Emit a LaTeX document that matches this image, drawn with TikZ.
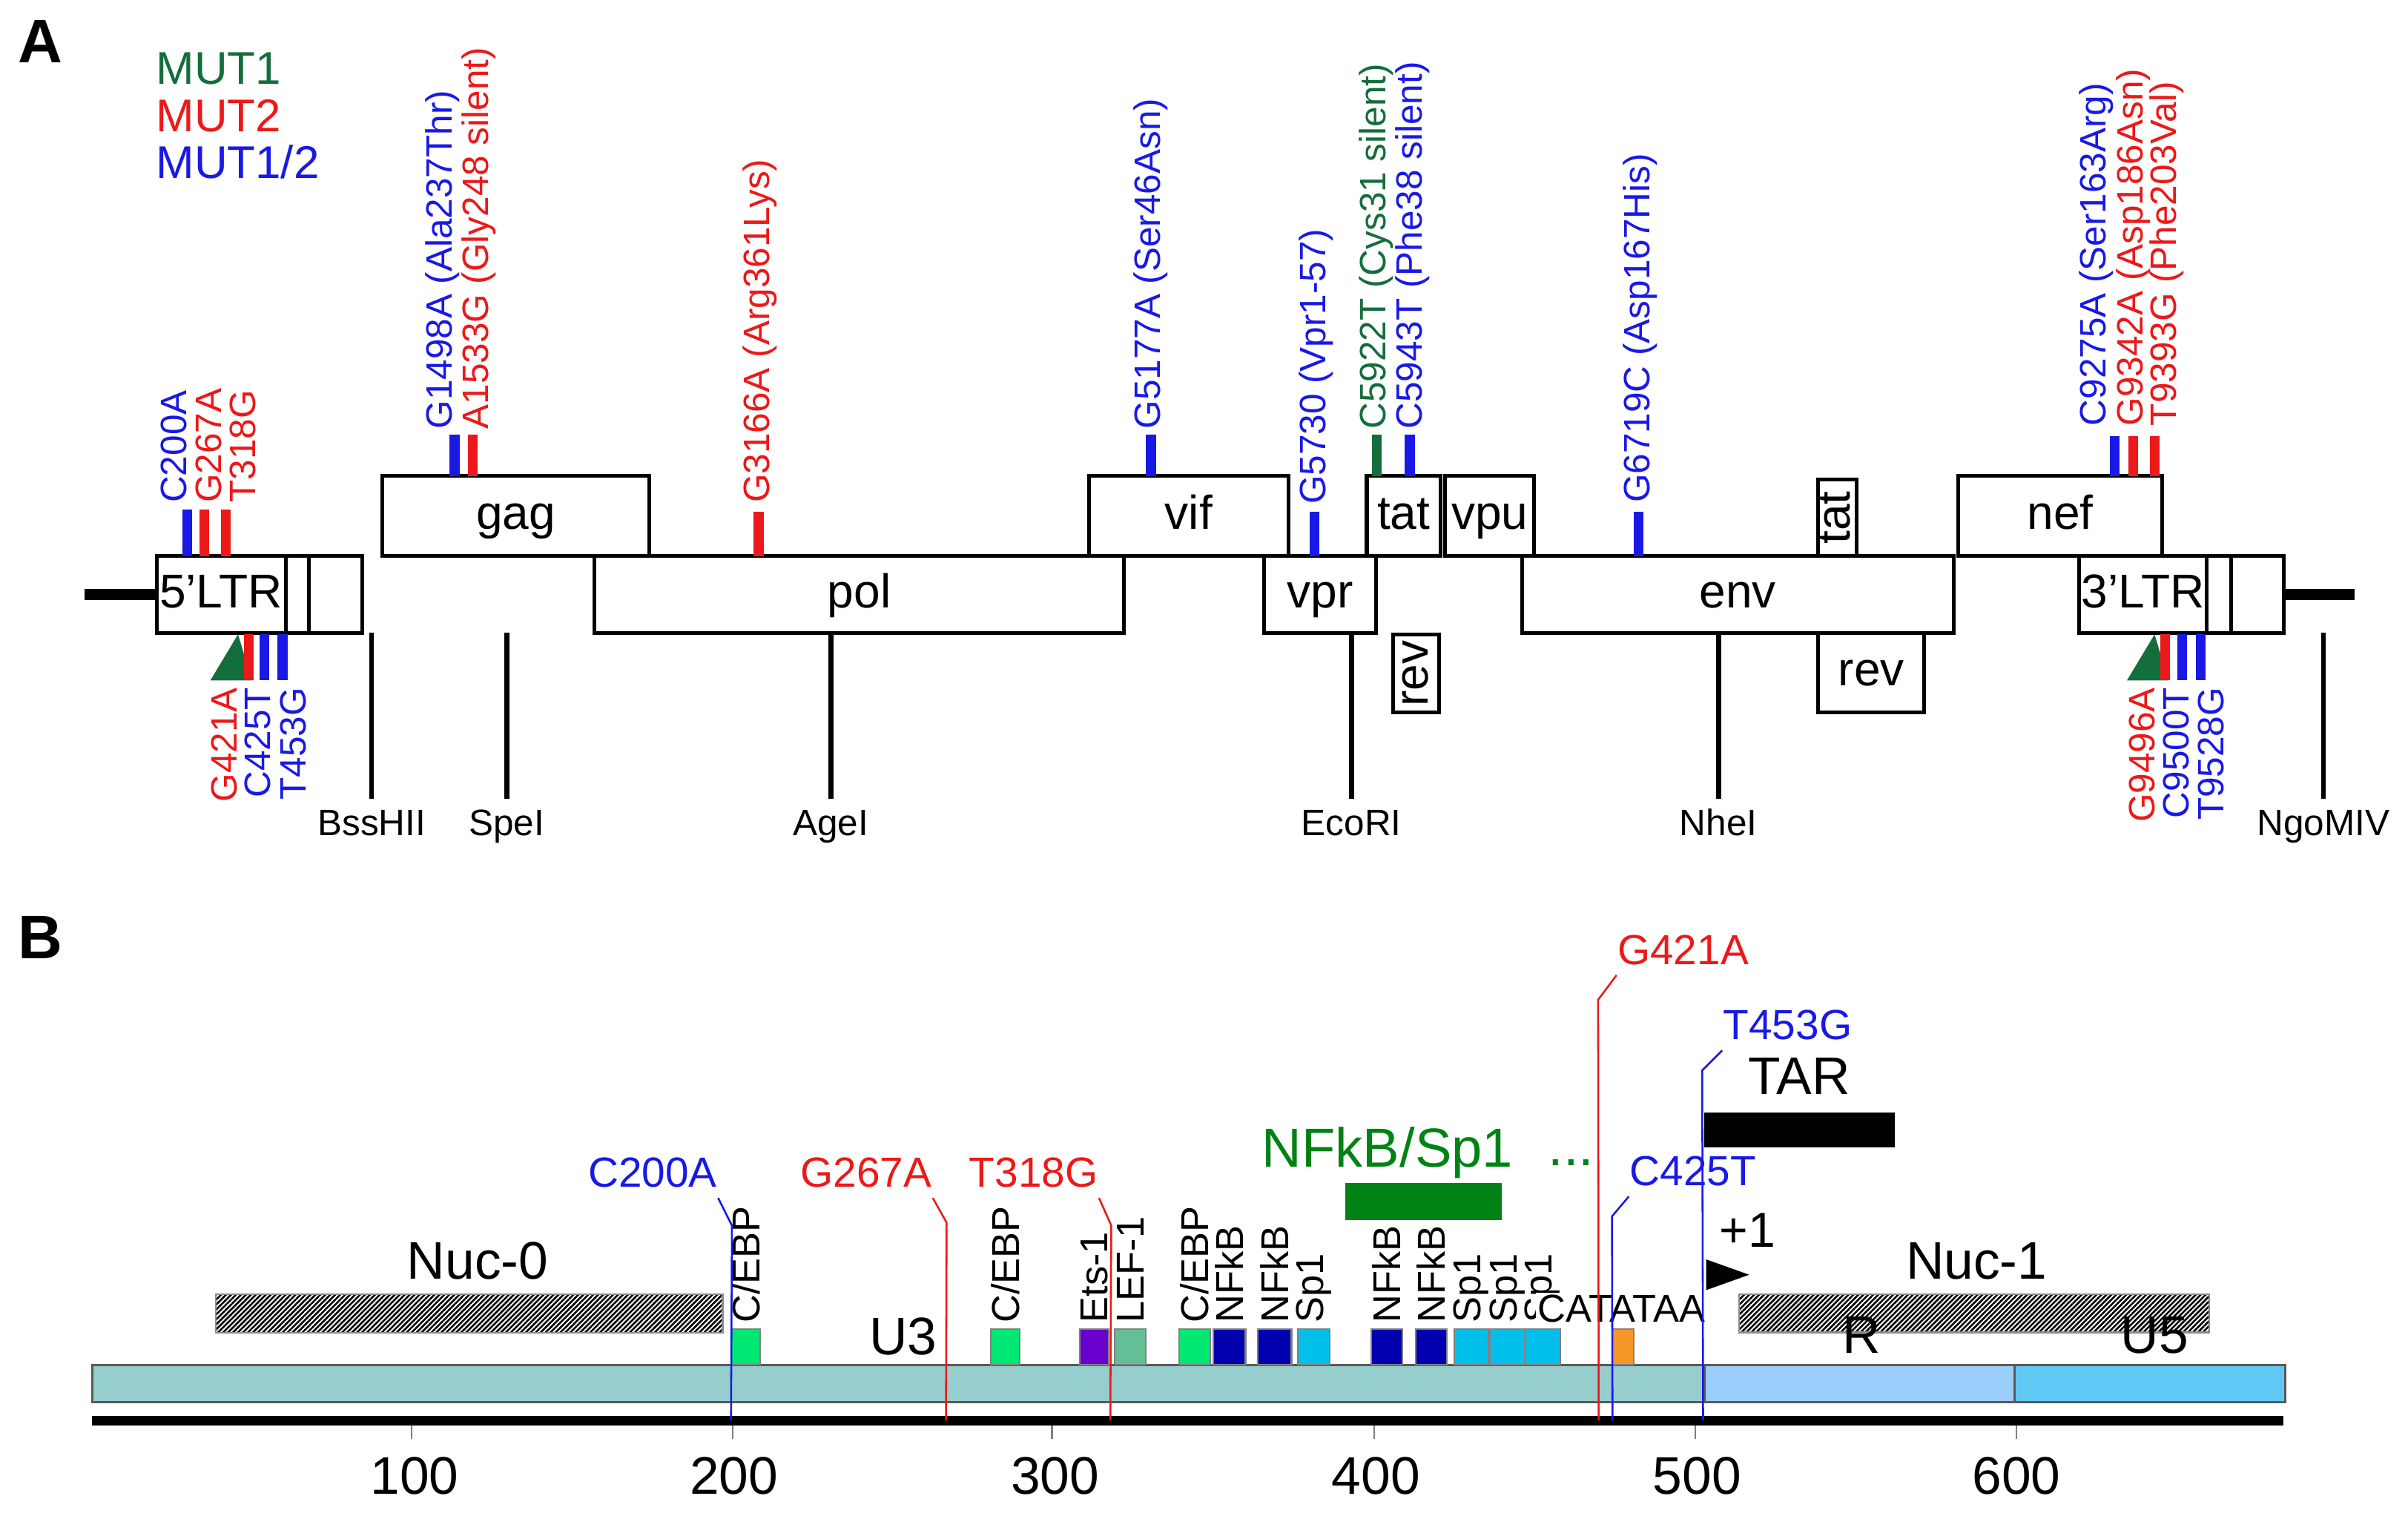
\documentclass[tikz,border=0pt]{standalone}
\usepackage{fontspec}
\setmainfont{Liberation Sans}
\usetikzlibrary{positioning,patterns.meta}
\definecolor{mutgreen}{RGB}{20,110,60}
\definecolor{mutred}{RGB}{235,25,25}
\definecolor{mutblue}{RGB}{25,25,230}
\definecolor{ltrteal}{RGB}{150,205,205}
\definecolor{rblue}{RGB}{155,205,250}
\definecolor{ufive}{RGB}{95,200,245}
\definecolor{cebpgreen}{RGB}{0,232,115}
\definecolor{etspurple}{RGB}{105,0,205}
\definecolor{lefgreen}{RGB}{100,190,150}
\definecolor{nfkbblue}{RGB}{0,0,175}
\definecolor{spblue}{RGB}{0,192,235}
\definecolor{tataorange}{RGB}{245,150,40}
\definecolor{sitegreen}{RGB}{0,130,20}

\begin{document}
\begin{tikzpicture}[
    x=0.1mm, y=-0.1mm,
    gene/.style={draw=black, line width=0.7pt, fill=white, inner sep=0pt, outer sep=0pt, text height=6.2pt, text depth=1.3pt, font=\fontsize{8.8}{9}\selectfont},
    vgene/.style={gene, rotate=90, text height=4.9pt, text depth=0.4pt},
    backbone/.style={line width=2pt},
    mutbar/.style={line width=0.64mm},
    mutlab/.style={rotate=90, inner sep=0pt, font=\fontsize{6.8}{7}\selectfont},
    siteline/.style={line width=0.9pt},
    sitelab/.style={anchor=north, inner sep=0pt, text height=4.9pt, text depth=1.4pt, font=\fontsize{6.8}{7}\selectfont},
    legend/.style={anchor=base west, inner sep=0pt, font=\fontsize{8.5}{9}\selectfont},
    panel/.style={anchor=base west, inner sep=0pt, font=\fontsize{11.4}{12}\selectfont\bfseries},
    ltrbar/.style={draw=black!65, line width=0.4pt, inner sep=0pt, outer sep=0pt, minimum height=2.4mm},
    hatch/.style={draw=black!45, line width=0.3pt, inner sep=0pt, minimum height=2.5mm, anchor=north west, pattern={Lines[angle=45,distance=0.65pt,line width=0.35pt]}},
    tfbox/.style={draw=black!50, line width=0.3pt, inner sep=0pt, minimum height=2.3mm, anchor=south},
    tflab/.style={rotate=90, anchor=west, inner sep=0pt, font=\fontsize{7.2}{7}\selectfont},
    mutlabB/.style={anchor=base, inner sep=0pt, font=\fontsize{7.8}{8}\selectfont},
    pointer/.style={line width=0.35pt},
    big/.style={anchor=base, inner sep=0pt, font=\fontsize{9.8}{10}\selectfont}
]
\useasboundingbox (0,0) rectangle (1568,987);

% Panel A
\node[panel] (tagA) at (11,41) {A};
\node[legend, text=mutgreen] (mut1) at (101,54.6) {MUT1};
\node[legend, text=mutred] (mut2) at (101,85.5) {MUT2};
\node[legend, text=mutblue] (mut12) at (101,116) {MUT1/2};

% LTRs and backbone
\node[gene, minimum width=8.4mm, minimum height=5mm] (ltr5) at (144,387) {5’LTR};
\node[gene, minimum width=1.5mm, minimum height=5mm, right=0pt of ltr5] (ltr5m) {};
\node[gene, minimum width=3.5mm, minimum height=5mm, right=0pt of ltr5m] (ltr5r) {};
\node[gene, minimum width=8.3mm, minimum height=5mm] (ltr3) at (1395.5,387) {3’LTR};
\node[gene, minimum width=1.6mm, minimum height=5mm, right=0pt of ltr3] (ltr3m) {};
\node[gene, minimum width=3.4mm, minimum height=5mm, right=0pt of ltr3m] (ltr3r) {};
\coordinate (left end) at (55,387);
\coordinate (right end) at (1533,387);
\draw[backbone] (left end) -- (ltr5.west);
\draw[backbone] (ltr3r.east) -- (right end);

% Genes
\node[gene, minimum width=17.4mm, minimum height=5.2mm] (gag) at (336,336) {gag};
\node[gene, minimum width=34.5mm, minimum height=5mm] (pol) at (559.5,387) {pol};
\node[gene, minimum width=13mm, minimum height=5.2mm] (vif) at (774,336) {vif};
\node[gene, minimum width=7.3mm, minimum height=5mm] (vpr) at (859.5,387) {vpr};
\node[gene, minimum width=4.8mm, minimum height=5.2mm] (tat) at (914,336) {tat};
\node[gene, minimum width=5.8mm, minimum height=5.2mm] (vpu) at (970,336) {vpu};
\node[vgene, minimum width=5.1mm, minimum height=3mm] (rev) at (922,438.5) {rev};
\node[gene, minimum width=28.1mm, minimum height=5mm] (env) at (1131.5,387) {env};
\node[vgene, minimum width=5mm, minimum height=2.5mm] (tat2) at (1196.5,337) {tat};
\node[gene, minimum width=6.9mm, minimum height=5.2mm] (rev2) at (1218.5,438) {rev};
\node[gene, minimum width=13.3mm, minimum height=5.2mm] (nef) at (1341.5,336) {nef};

% Mutations above the genes
\draw[mutbar, mutblue] (122,332) -- (122,362);
\draw[mutbar, mutred] (133,332) -- (133,362);
\draw[mutbar, mutred] (147,332) -- (147,362);
\node[mutlab, anchor=west, text=mutblue] (c200a) at (113,328) {C200A};
\node[mutlab, anchor=west, text=mutred] (g267a) at (136,328) {G267A};
\node[mutlab, anchor=west, text=mutred] (t318g) at (158,328) {T318G};

\draw[mutbar, mutblue] (296,283) -- (296,310);
\draw[mutbar, mutred] (308,283) -- (308,310);
\node[mutlab, anchor=west, text=mutblue] (g1498a) at (288,280) {G1498A (Ala237Thr)};
\node[mutlab, anchor=west, text=mutred] (a1533g) at (312,280) {A1533G (Gly248 silent)};

\draw[mutbar, mutred] (494,333) -- (494,362);
\node[mutlab, anchor=west, text=mutred] (g3166a) at (495,328) {G3166A (Arg361Lys)};

\draw[mutbar, mutblue] (749.5,283) -- (749.5,310);
\node[mutlab, anchor=west, text=mutblue] (g5177a) at (749.5,280) {G5177A (Ser46Asn)};

\draw[mutbar, mutblue] (856,333) -- (856,362);
\node[mutlab, anchor=west, text=mutblue] (g5730) at (857,329) {G5730 (Vpr1-57)};

\draw[mutbar, mutgreen] (896.5,283) -- (896.5,310);
\draw[mutbar, mutblue] (918,283) -- (918,310);
\node[mutlab, anchor=west, text=mutgreen] (c5922t) at (896,280) {C5922T (Cys31 silent)};
\node[mutlab, anchor=west, text=mutblue] (c5943t) at (920,280) {C5943T (Phe38 silent)};

\draw[mutbar, mutblue] (1067,333) -- (1067,362);
\node[mutlab, anchor=west, text=mutblue] (g6719c) at (1068,328) {G6719C (Asp167His)};

\draw[mutbar, mutblue] (1377,284) -- (1377,310);
\draw[mutbar, mutred] (1389,284) -- (1389,310);
\draw[mutbar, mutred] (1403,284) -- (1403,310);
\node[mutlab, anchor=west, text=mutblue] (c9275a) at (1365,278) {C9275A (Ser163Arg)};
\node[mutlab, anchor=west, text=mutred] (g9342a) at (1389,278) {G9342A (Asp186Asn)};
\node[mutlab, anchor=west, text=mutred] (t9393g) at (1411,278) {T9393G (Phe203Val)};

% Mutations below the LTRs
\fill[mutgreen] (137,443) -- (164,443) -- (155,413) -- cycle;
\draw[mutbar, mutred] (162,413) -- (162,443);
\draw[mutbar, mutblue] (172,413) -- (172,443);
\draw[mutbar, mutblue] (184,413) -- (184,443);
\node[mutlab, anchor=east, text=mutred] (g421a) at (146,447) {G421A};
\node[mutlab, anchor=east, text=mutblue] (c425t) at (168,447) {C425T};
\node[mutlab, anchor=east, text=mutblue] (t453g) at (191,447) {T453G};

\fill[mutgreen] (1385,443) -- (1412,443) -- (1403,413) -- cycle;
\draw[mutbar, mutred] (1410,413) -- (1410,443);
\draw[mutbar, mutblue] (1421,413) -- (1421,443);
\draw[mutbar, mutblue] (1433,413) -- (1433,443);
\node[mutlab, anchor=east, text=mutred] (g9496a) at (1395,447) {G9496A};
\node[mutlab, anchor=east, text=mutblue] (c9500t) at (1417,447) {C9500T};
\node[mutlab, anchor=east, text=mutblue] (t9528g) at (1440,447) {T9528G};

% Restriction sites
\node[sitelab] (bsshii) at (242,526) {BssHII};
\node[sitelab] (spei) at (330,526) {SpeI};
\node[sitelab] (agei) at (541,526) {AgeI};
\node[sitelab] (ecori) at (880,526) {EcoRI};
\node[sitelab] (nhei) at (1119,526) {NheI};
\node[sitelab] (ngomiv) at (1513,526) {NgoMIV};
\draw[siteline] ([yshift=0.6mm]bsshii.north) -- (bsshii.north |- ltr5.south);
\draw[siteline] ([yshift=0.6mm]spei.north) -- (spei.north |- ltr5.south);
\draw[siteline] ([yshift=0.6mm]agei.north) -- (agei.north |- pol.south);
\draw[siteline] ([yshift=0.6mm]ecori.north) -- (ecori.north |- vpr.south);
\draw[siteline] ([yshift=0.6mm]nhei.north) -- (nhei.north |- env.south);
\draw[siteline] ([yshift=0.6mm]ngomiv.north) -- (ngomiv.north |- ltr3r.south);

% Panel B
\node[panel] (tagB) at (11,624) {B};
\node[ltrbar, fill=ltrteal, minimum width=105mm, anchor=north west] (u3) at (60,889) {};
\node[ltrbar, fill=rblue, minimum width=20.2mm, right=0pt of u3] (r) {};
\node[ltrbar, fill=ufive, minimum width=17.6mm, right=0pt of r] (u5) {};

% Axis
\coordinate (axis start) at (60,925);
\coordinate (axis end) at (1487,925);
\draw[line width=1.7pt] (axis start) -- (axis end);
\draw[black!50, line width=0.3pt] (268,928) -- (268,937);
\draw[black!50, line width=0.3pt] (477,928) -- (477,937);
\draw[black!50, line width=0.3pt] (685,928) -- (685,937);
\draw[black!50, line width=0.3pt] (895,928) -- (895,937);
\draw[black!50, line width=0.3pt] (1104,928) -- (1104,937);
\draw[black!50, line width=0.3pt] (1313,928) -- (1313,937);
\node[big] (n100) at (270,973) {100};
\node[big] (n200) at (478,973) {200};
\node[big] (n300) at (687,973) {300};
\node[big] (n400) at (896,973) {400};
\node[big] (n500) at (1105,973) {500};
\node[big] (n600) at (1313,973) {600};

% Nucleosomes and regions
\node[hatch, minimum width=33mm] (nuc0) at (140,842) {};
\node[big] (nuc0lab) at (311,833) {Nuc-0};
\node[hatch, minimum width=30.6mm] (nuc1) at (1132,842) {};
\node[big] (nuc1lab) at (1287,833) {Nuc-1};
\node[big] (u3lab) at (588,882) {U3};
\node[big] (rlab) at (1212,881) {R};
\node[big] (u5lab) at (1403,881) {U5};

% Binding sites
\node[tfbox, fill=cebpgreen, minimum width=1.9mm] (cebp1) at (485.5,889) {};
\node[tfbox, fill=cebpgreen, minimum width=1.9mm] (cebp2) at (654.5,889) {};
\node[tfbox, fill=etspurple, minimum width=1.9mm] (ets) at (712.5,889) {};
\node[tfbox, fill=lefgreen, minimum width=2mm] (lef) at (736,889) {};
\node[tfbox, fill=cebpgreen, minimum width=2mm] (cebp3) at (778,889) {};
\node[tfbox, fill=nfkbblue, minimum width=2.1mm] (nfkb1) at (800.5,889) {};
\node[tfbox, fill=nfkbblue, minimum width=2.2mm] (nfkb2) at (830,889) {};
\node[tfbox, fill=spblue, minimum width=2.1mm] (sp1a) at (855.5,889) {};
\node[tfbox, fill=nfkbblue, minimum width=2mm] (nfkb3) at (903,889) {};
\node[tfbox, fill=nfkbblue, minimum width=2mm] (nfkb4) at (932,889) {};
\node[tfbox, fill=spblue, minimum width=2.2mm] (sp1b) at (958,889) {};
\node[tfbox, fill=spblue, minimum width=2.3mm] (sp1c) at (981.5,889) {};
\node[tfbox, fill=spblue, minimum width=2.3mm] (sp1d) at (1004.5,889) {};
\node[tfbox, fill=tataorange, minimum width=1.4mm] (tata) at (1057,889) {};

\node[tflab] at ([yshift=0.3mm]cebp1.north) {C/EBP};
\node[tflab] at ([yshift=0.3mm]cebp2.north) {C/EBP};
\node[tflab] at ([yshift=0.3mm]ets.north) {Ets-1};
\node[tflab] at ([yshift=0.3mm]lef.north) {LEF-1};
\node[tflab] at ([yshift=0.3mm]cebp3.north) {C/EBP};
\node[tflab] at ([yshift=0.3mm]nfkb1.north) {NFkB};
\node[tflab] at ([yshift=0.3mm]nfkb2.north) {NFkB};
\node[tflab] at ([yshift=0.3mm]sp1a.north) {Sp1};
\node[tflab] at ([yshift=0.3mm]nfkb3.north) {NFkB};
\node[tflab] at ([yshift=0.3mm]nfkb4.north) {NFkB};
\node[tflab] at ([yshift=0.3mm]sp1b.north) {Sp1};
\node[tflab] at ([yshift=0.3mm]sp1c.north) {Sp1};
\node[tflab] at ([yshift=0.3mm]sp1d.north) {Sp1};
\node[anchor=base, inner sep=0.4pt, fill=white, font=\fontsize{7.2}{7}\selectfont] (tatalab) at (1056,861) {CATATAA};

% NFkB/Sp1 block, TAR and start site
\node[fill=sitegreen, inner sep=0pt, minimum width=10.2mm, minimum height=2.4mm] (nfbar) at (927,782.4) {};
\node[big, text=sitegreen, font=\fontsize{10.2}{10}\selectfont] (nflab) at (903.5,760) {NFkB/Sp1};
\node[big, text=sitegreen, font=\fontsize{10.2}{10}\selectfont] (dots) at (1023,759) {...};
\node[fill=black, inner sep=0pt, minimum width=12.4mm, minimum height=2.3mm, anchor=north west] (tar) at (1109,723.5) {};
\node[big, above=1.05mm of tar] (tarlab) {TAR};
\node[big, font=\fontsize{9.1}{9}\selectfont] (plus1) at (1138,812) {+1};
\fill (1111,820) -- (1139,830) -- (1111,840) -- cycle;

% Mutations in the LTR
\node[mutlabB, text=mutblue] (c200aB) at (425,773) {C200A};
\node[mutlabB, text=mutred] (g267aB) at (564,773) {G267A};
\node[mutlabB, text=mutred] (t318gB) at (673,773) {T318G};
\node[mutlabB, text=mutred] (g421aB) at (1096,628) {G421A};
\node[mutlabB, text=mutblue] (t453gB) at (1164,677) {T453G};
\node[mutlabB, text=mutblue] (c425tB) at (1102.5,772) {C425T};
\coordinate (m200) at (476,925);
\coordinate (m267) at (616,925);
\coordinate (m318) at (723,925);
\coordinate (m421) at (1041,925);
\coordinate (m425) at (1050,925);
\coordinate (m453) at (1109,925);
\draw[pointer, mutblue] ([yshift=-0.6mm]c200aB.south east) -- ++(9,18) -- (m200);
\draw[pointer, mutred] ([yshift=-0.6mm]g267aB.south east) -- ++(9,16) -- (m267);
\draw[pointer, mutred] ([yshift=-0.6mm]t318gB.south east) -- ++(8,18) -- (m318);
\draw[pointer, mutred] ([yshift=-0.6mm]g421aB.south west) -- ++(-12,16) -- (m421);
\draw[pointer, mutblue] ([yshift=-0.6mm]t453gB.south west) -- ++(-13,13) -- (m453);
\draw[pointer, mutblue] ([yshift=-0.6mm]c425tB.south west) -- ++(-11,13) -- (m425);

\end{tikzpicture}
\end{document}
